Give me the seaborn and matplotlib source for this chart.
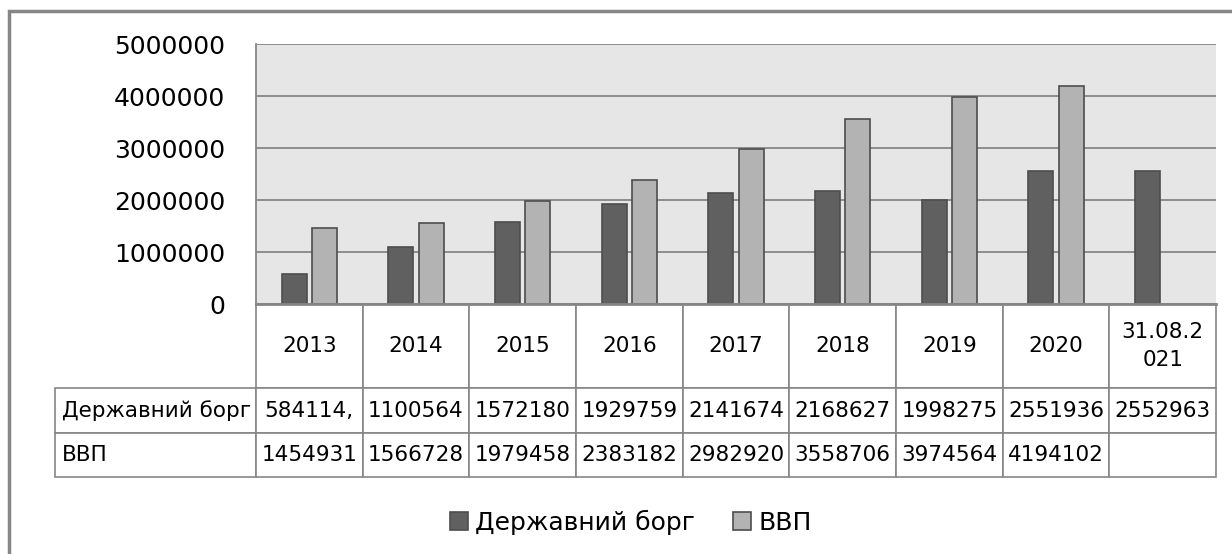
import textwrap

import matplotlib
matplotlib.use("Agg")
import matplotlib.pyplot as plt
import numpy as np
import pandas as pd
import seaborn as sns
from matplotlib.patches import Patch, Rectangle
from matplotlib.table import Table

# data (млн грн)
periods = ["2013", "2014", "2015", "2016", "2017", "2018", "2019", "2020", "31.08.2021"]
series_names = ["Державний борг", "ВВП"]
debt = [584114.1, 1100564, 1572180, 1929759, 2141674, 2168627, 1998275, 2551936, 2552963]
gdp = [1454931, 1566728, 1979458, 2383182, 2982920, 3558706, 3974564, 4194102, np.nan]
y_ticks = [0, 1000000, 2000000, 3000000, 4000000, 5000000]

dark = "#606060"
light = "#b3b3b3"
grid_col = "#868686"


def cell_text(v):
    # Excel clips the number to the cell width: 584114,1 -> "584114,"
    if pd.isna(v):
        return ""
    s = f"{v:.1f}".replace(".", ",").removesuffix(",0")
    return s[:7]


df = pd.DataFrame({
    "period": periods * 2,
    "series": [series_names[0]] * len(periods) + [series_names[1]] * len(periods),
    "value": list(debt) + list(gdp),
})

sns.set_style("white")
plt.rcParams["font.family"] = ["DejaVu Sans"]
plt.rcParams["text.color"] = "black"

W, H = 1232, 554
fig = plt.figure(figsize=(W / 100, H / 100), dpi=100)
fig.patch.set_facecolor("white")

# plot area in pixel terms: x 256..1216, y 44..304
AX_W, AX_H = 960, 260
ax = fig.add_axes([256 / W, 1 - 304 / H, AX_W / W, AX_H / H])
ax.set_facecolor("#e6e6e6")

sns.barplot(data=df, x="period", y="value", hue="series", order=periods,
            hue_order=series_names, palette=[dark, light], width=0.573, gap=0.18,
            edgecolor="#4d4d4d", linewidth=1.2, errorbar=None, legend=False, ax=ax)

ax.set_xlim(-0.5, len(periods) - 0.5)
ax.set_ylim(0, 5000000)
ax.set_yticks(y_ticks)
ax.set_yticklabels([str(t) for t in y_ticks], fontsize=18, color="black")
ax.tick_params(axis="y", length=0, pad=22)
ax.set_xticks([])
ax.set_xlabel("")
ax.set_ylabel("")
ax.yaxis.grid(True, color=grid_col, linewidth=1.3)
ax.set_axisbelow(True)
for side in ["top", "right"]:
    ax.spines[side].set_visible(False)
ax.spines["left"].set_color(grid_col)
ax.spines["left"].set_linewidth(1.3)
ax.spines["bottom"].set_color(grid_col)
ax.spines["bottom"].set_linewidth(2)

# data table under the plot: label column 55..256 px, rows 304..388..433..477 px
lab_w = 201 / AX_W
col_w = 1 / len(periods)
row_h = [84 / AX_H, 45 / AX_H, 44 / AX_H]
tbl = Table(ax, bbox=[0, -sum(row_h), 1, sum(row_h)])
tbl.auto_set_font_size(False)
rows = [
    ("", [textwrap.fill(p, 7) for p in periods]),
    (series_names[0], [cell_text(v) for v in debt]),
    (series_names[1], [cell_text(v) for v in gdp]),
]
for r, (label, texts) in enumerate(rows):
    c = tbl.add_cell(r, -1, lab_w, row_h[r], text=label, loc="left",
                     facecolor="white", edgecolor=grid_col)
    c.PAD = 0.035
    if r == 0:
        c.visible_edges = "open"
    for j, t in enumerate(texts):
        c = tbl.add_cell(r, j, col_w, row_h[r], text=t, loc="center",
                         facecolor="white", edgecolor=grid_col)
        c.PAD = 0.02
for c in tbl.get_celld().values():
    c.set_linewidth(1.2)
    c.get_text().set_fontsize(15.5)
    c.get_text().set_linespacing(1.5)
ax.add_table(tbl)

# legend below the table
handles = [Patch(facecolor=dark, edgecolor="#4d4d4d", linewidth=1.2),
           Patch(facecolor=light, edgecolor="#4d4d4d", linewidth=1.2)]
fig.legend(handles, series_names, loc="center", bbox_to_anchor=(0.512, 1 - 522 / H),
           ncol=2, frameon=False, fontsize=18, handlelength=0.72, handleheight=0.72,
           handletextpad=0.3, columnspacing=1.5)

# outer chart frame (clipped by the image at right and bottom)
fig.add_artist(Rectangle((9 / W, -0.05), 1.1, 1.05 - 11 / H, transform=fig.transFigure,
                         fill=False, edgecolor=grid_col, linewidth=2.5))

fig.savefig("out.png", dpi=100)
plt.close(fig)
